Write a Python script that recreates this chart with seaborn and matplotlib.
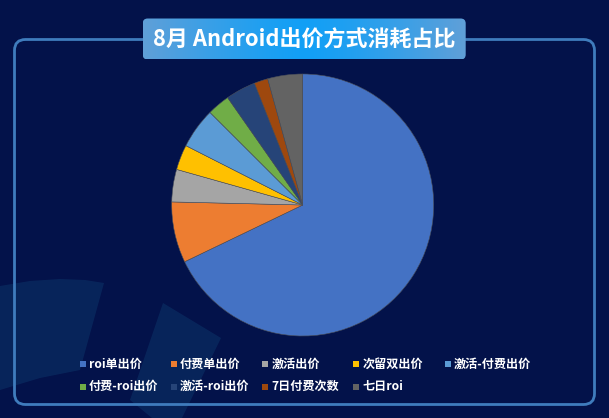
import numpy as np
import pandas as pd
import matplotlib
matplotlib.use("Agg")
import matplotlib.pyplot as plt
from matplotlib.patches import FancyBboxPatch, Polygon, Rectangle
import seaborn as sns

# ---- data ----
categories = ["roi单出价", "付费单出价", "激活出价", "次留双出价", "激活-付费出价",
              "付费-roi出价", "激活-roi出价", "7日付费次数", "七日roi"]
shares = [67.8, 7.5, 4.0, 3.1, 5.0, 2.8, 3.7, 1.7, 4.3]
colors = ["#4472C4", "#ED7D31", "#A5A5A5", "#FFC000", "#5B9BD5",
          "#70AD47", "#264478", "#9E480E", "#636363"]
title_text = "8月 Android出价方式消耗占比"

df = pd.DataFrame({"category": categories, "share": shares})

sns.set_style("white")
plt.rcParams["font.family"] = ["Noto Sans CJK SC", "DejaVu Sans"]
palette = sns.color_palette(colors)

W, H = 609, 418
BG = "#03124a"
fig = plt.figure(figsize=(W / 100, H / 100), dpi=100, facecolor=BG)

# background axes in pixel coordinates
bg = fig.add_axes([0, 0, 1, 1])
bg.set_xlim(0, W)
bg.set_ylim(H, 0)
bg.axis("off")
bg.set_facecolor(BG)

# faint decorative shapes (lower left)
deco = "#0a2d62"
bg.add_patch(Polygon([(0, 286), (30, 281), (60, 279), (85, 280), (104, 283),
                      (80, 370), (40, 378), (0, 390)],
                     closed=True, facecolor=deco, edgecolor="none", alpha=0.7, zorder=1))
bg.add_patch(Polygon([(163, 303), (221, 338), (182, 418), (152, 418), (130, 400)],
                     closed=True, facecolor=deco, edgecolor="none", alpha=0.7, zorder=1))

# frame
bg.add_patch(FancyBboxPatch((14.5, 39.5), 580, 365,
                            boxstyle="round,pad=0,rounding_size=11",
                            facecolor="none", edgecolor="#3f7cbd", linewidth=2, zorder=2))

# title box with gradient
tx0, ty0, tw, th = 142.7, 18.5, 323, 41
box = FancyBboxPatch((tx0, ty0), tw, th, boxstyle="round,pad=0,rounding_size=5",
                     facecolor="none", edgecolor="none", zorder=3)
bg.add_patch(box)
xs = np.linspace(-1, 1, 256)
t = np.abs(xs) ** 1.3
c_edge = np.array([0x60, 0x9f, 0xd8]) / 255
c_mid = np.array([0x12, 0xa0, 0xf6]) / 255
grad = (c_mid[None, :] * (1 - t[:, None]) + c_edge[None, :] * t[:, None])[None, :, :]
im = bg.imshow(grad, extent=[tx0, tx0 + tw, ty0 + th, ty0], aspect="auto", zorder=3)
im.set_clip_path(box)
bg.set_xlim(0, W)
bg.set_ylim(H, 0)
bg.text(tx0 + tw / 2 + 0.5, ty0 + th / 2 + 1, title_text, color="white", fontsize=15.8,
        fontweight="bold", ha="center", va="center", zorder=4)

# legend (manual, two rows of five)
col_x = [80, 170.7, 262.3, 353.3, 445]
row_y = [364, 386.5]
for i, (lab, col) in enumerate(zip(df["category"], palette)):
    r, c = divmod(i, 5)
    x, y = col_x[c], row_y[r]
    bg.add_patch(Rectangle((x, y - 3), 6, 6, facecolor=col, edgecolor="none", zorder=4))
    bg.text(x + 9, y, lab, color="white", fontsize=8.7, fontweight="bold",
            ha="left", va="center", zorder=4)

# pie
cx, cy, R = 302.7, 205, 131
pax = fig.add_axes([(cx - R) / W, (H - cy - R) / H, 2 * R / W, 2 * R / H])
pax.pie(df["share"], colors=palette, startangle=90, counterclock=False, radius=1,
        wedgeprops=dict(edgecolor="#4a4f5a", linewidth=0.4))
pax.set_xlim(-1, 1)
pax.set_ylim(-1, 1)
pax.set_aspect("equal")
pax.axis("off")

fig.savefig("out.png", dpi=100, facecolor=BG)
